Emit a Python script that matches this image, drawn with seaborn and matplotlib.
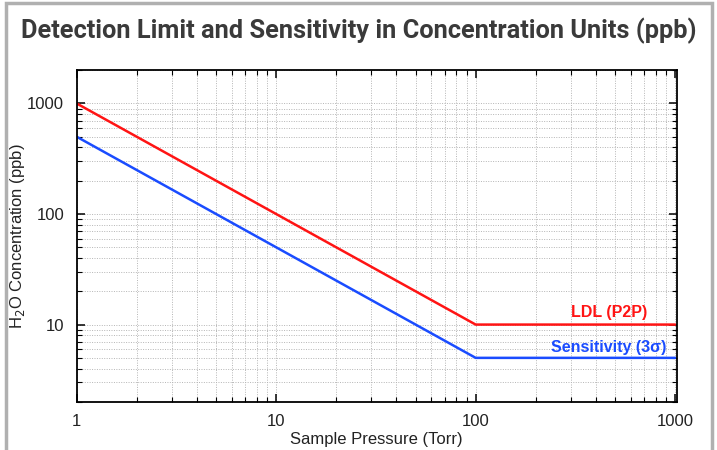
import numpy as np
import matplotlib
matplotlib.use("Agg")
import matplotlib.pyplot as plt
import seaborn as sns
import pandas as pd
from matplotlib.patches import Rectangle
from matplotlib.ticker import LogLocator, NullFormatter, FixedLocator, FixedFormatter

sns.set_theme(style="ticks")
plt.rcParams["font.family"] = ["Liberation Sans", "DejaVu Sans"]

# data
pressure = [1, 100, 1000]
ldl = [1000, 10, 10]
sensitivity = [500, 5, 5]

df = pd.DataFrame({
    "pressure": pressure * 2,
    "conc": ldl + sensitivity,
    "series": ["LDL (P2P)"] * 3 + ["Sensitivity (3σ)"] * 3,
})
colors = {"LDL (P2P)": "#ff1414", "Sensitivity (3σ)": "#1a4cff"}

fig = plt.figure(figsize=(7.17, 4.5), dpi=100)
ax = fig.add_axes([0.107, 0.107, 0.837, 0.737])

sns.lineplot(data=df, x="pressure", y="conc", hue="series", palette=colors,
             linewidth=1.8, legend=False, ax=ax)
ax.set_xscale("log")
ax.set_yscale("log")
ax.set_xlim(1, 1020)
ax.set_ylim(2, 2000)

ax.xaxis.set_major_locator(FixedLocator([1, 10, 100, 1000]))
ax.xaxis.set_major_formatter(FixedFormatter(["1", "10", "100", "1000"]))
ax.yaxis.set_major_locator(FixedLocator([10, 100, 1000]))
ax.yaxis.set_major_formatter(FixedFormatter(["10", "100", "1000"]))
ax.xaxis.set_minor_locator(LogLocator(base=10, subs=np.arange(2, 10)))
ax.yaxis.set_minor_locator(LogLocator(base=10, subs=np.arange(2, 10)))
ax.xaxis.set_minor_formatter(NullFormatter())
ax.yaxis.set_minor_formatter(NullFormatter())

ax.grid(which="both", color="#b5b5b5", linestyle=(0, (1, 1.5)), linewidth=0.7)
ax.tick_params(which="both", direction="in", top=True, right=True, colors="black",
               labelsize=12, labelcolor="#222222")
ax.tick_params(which="major", length=6, width=1.1, pad=9)
ax.tick_params(which="minor", length=3.5, width=0.8)
for s in ax.spines.values():
    s.set_color("black")
    s.set_linewidth(1.3)

ax.set_xlabel("Sample Pressure (Torr)", fontsize=12, color="#222222", labelpad=2)
ax.set_ylabel("H$_2$O Concentration (ppb)", fontsize=12, color="#222222")
ax.yaxis.set_label_coords(-0.083, 0.5)

ax.text(722, 10.9, "LDL (P2P)", color=colors["LDL (P2P)"], fontsize=11.5,
        fontweight="bold", ha="right", va="bottom")
ax.text(899, 5.35, "Sensitivity (3σ)", color=colors["Sensitivity (3σ)"], fontsize=11.5,
        fontweight="bold", ha="right", va="bottom")

# page frame and title
fig.patches.append(Rectangle((0.008, -0.05), 0.985, 1.043, transform=fig.transFigure,
                             fill=False, edgecolor="#b0b0b0", linewidth=2.5))
fig.text(0.5, 0.932, "Detection Limit and Sensitivity in Concentration Units (ppb)",
         ha="center", va="center", fontsize=18.3, fontweight="bold", color="#3a3a3a",
         family=["Roboto", "DejaVu Sans"])

plt.savefig("out.png", dpi=100)
